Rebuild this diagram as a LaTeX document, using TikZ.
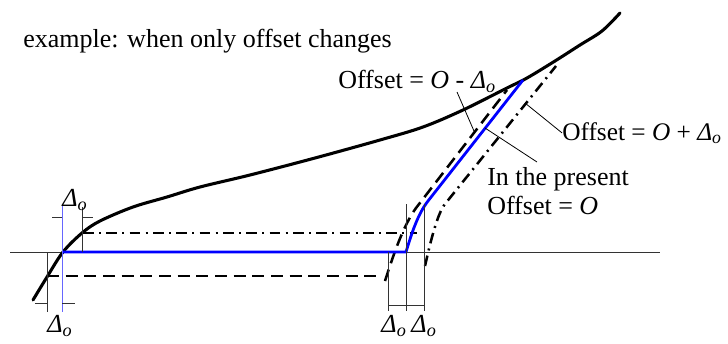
\documentclass[tikz,border=0pt]{standalone}
\usepackage{fontspec}
\setmainfont{Liberation Serif}
\newcommand\Dlo{\textit{Δ}\textsubscript{\textit{o}}}
\begin{document}
\begin{tikzpicture}[x=0.75pt,y=-0.75pt,
  lbl/.style={inner sep=0pt,anchor=base west,font=\fontsize{19.5}{22}\selectfont},
  dlbl/.style={inner sep=0pt,anchor=center,font=\fontsize{19.5}{22}\selectfont},
  profile/.style={line width=2.3pt,line cap=round},
  bluepath/.style={line width=2.1pt,blue},
  dashedpath/.style={line width=1.9pt,dash pattern=on 9pt off 5pt},
  dashdotpath/.style={line width=1.9pt,dash pattern=on 8pt off 4pt on 1.5pt off 4pt},
  thinline/.style={line width=0.6pt,black!80},
  thinblue/.style={line width=0.7pt,blue!60},
  leader/.style={line width=0.6pt}]
\useasboundingbox (0,0) rectangle (728,343);

% axis
\coordinate (axL) at (10,252);
\coordinate (axR) at (660,252);
\draw[thinline] (axL) -- (axR);

% profile curve
\draw[profile] plot[smooth,tension=0.55] coordinates {(33,300) (47,277) (63,252) (82,233) (100,221) (133,207) (167,197) (200,187) (250,175) (315,158) (380,140) (423,127) (463,110) (507,88) (527,78) (555,61) (580,45) (602,31) (620,13)};

% key points
\coordinate (bA) at (62,252);
\coordinate (bB) at (406,252);
\coordinate (bC) at (428,201);
\coordinate (bD) at (523,80);
\coordinate (dA) at (47,276);
\coordinate (dB) at (381,276);
\coordinate (dC) at (385,281);
\coordinate (dD) at (416,208);
\coordinate (dE) at (507,90);
\coordinate (cA) at (83,233);
\coordinate (cB) at (417,233);
\coordinate (cC) at (425,266);
\coordinate (cD) at (445,204);
\coordinate (cE) at (556,66);

% offset paths
\draw[dashdotpath] (cA) -- (cB);
\draw[dashdotpath] (cC) .. controls (430,244) and (437,214) .. (cD) -- (cE);
\draw[dashedpath] (dA) -- (dB);
\draw[dashedpath] (dC) .. controls (393,256) and (403,226) .. (dD) -- (dE);
\draw[bluepath] (bA) -- (bB) .. controls (412,232) and (418,214) .. (bC) -- (bD);

% left dimension lines
\draw[thinblue] (62,205) -- (62,312);
\draw[thinline] (47,252) -- (47,312);
\draw[thinline] (35,303) -- (47,303);
\draw[thinline] (62,303) -- (75,303);
\draw[thinline] (82,252) -- (82,207);
\draw[thinline] (52,217) -- (62,217);
\draw[thinline] (82,217) -- (93,217);

% right dimension lines
\draw[thinline] (388,252) -- (388,311);
\draw[thinline] (406,204) -- (406,311);
\draw[thinline] (424,204) -- (424,311);
\draw[thinline] (388,305) -- (424,305);

% labels
\node[lbl] (title) at (23,47) {example: when only offset changes};
\node[lbl] (tminus) at (338,88) {Offset = \textit{O} - \Dlo};
\node[lbl,font=\fontsize{19}{22}\selectfont] (tplus) at (562,140) {Offset = \textit{O} + \Dlo};
\node[lbl] (tpres) at (487,185) {In the present};
\node[lbl] (tzero) at (487,214) {Offset = \textit{O}};
\node[dlbl] (dl1) at (60,326) {\Dlo};
\node[dlbl] (dl2) at (75,200) {\Dlo};
\node[dlbl] (dl3) at (394,326) {\Dlo};
\node[dlbl] (dl4) at (424,326) {\Dlo};

% leaders
\coordinate (m1) at (457,92);
\coordinate (m2) at (474,131);
\draw[leader] (m1) -- (m2);
\coordinate (p1) at (525,103);
\draw[leader] (p1) -- (tplus.west);
\coordinate (z1) at (485,128);
\coordinate (z2) at (537,162);
\draw[leader] (z1) -- (z2);
\end{tikzpicture}
\end{document}
